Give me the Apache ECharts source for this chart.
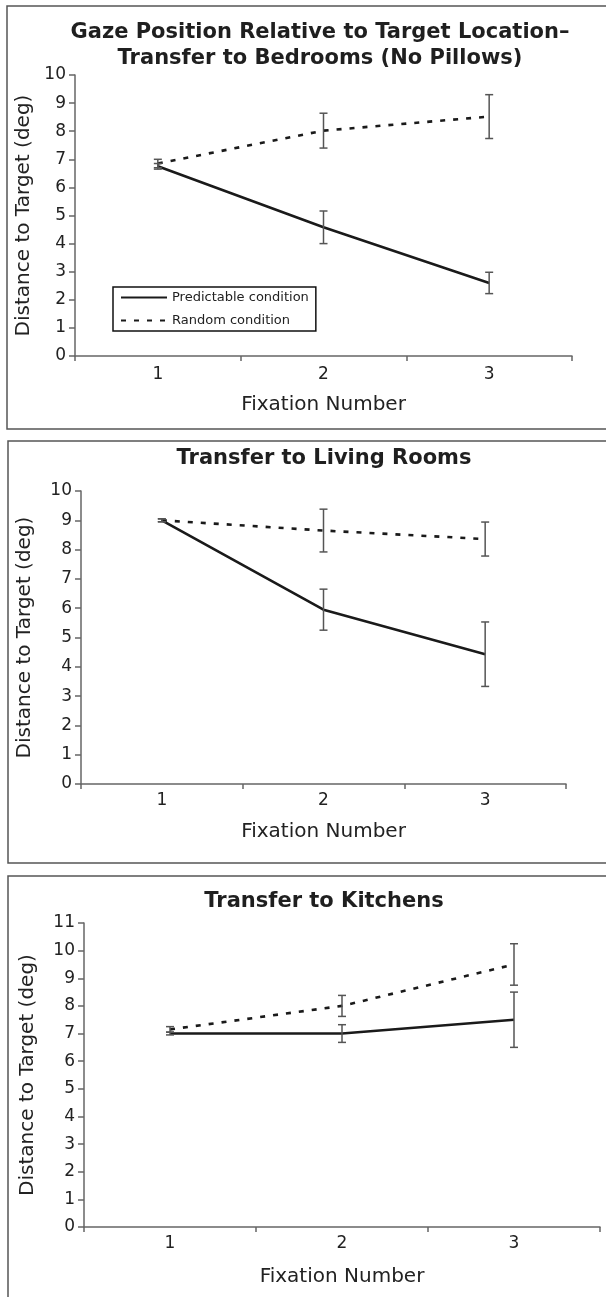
<!DOCTYPE html>
<html>
<head>
<meta charset="utf-8">
<script src="https://cdn.jsdelivr.net/npm/echarts@6/dist/echarts.min.js"></script>
<style>
html,body{margin:0;padding:0;background:#fff;}
#c{width:606px;height:1297px;}
</style>
</head>
<body>
<div id="c"></div>
<script>
const categories = ['1', '2', '3'];
const yTicks1 = 10, yTicks2 = 10, yTicks3 = 11;

const bedPred = [6.75, 4.58, 2.6];
const bedPredErr = [0.1, 0.58, 0.38];
const bedRand = [6.85, 8.02, 8.52];
const bedRandErr = [0.15, 0.62, 0.78];

const livPred = [9.0, 5.95, 4.43];
const livPredErr = [0.05, 0.7, 1.1];
const livRand = [9.0, 8.65, 8.36];
const livRandErr = [0.05, 0.73, 0.58];

const kitPred = [7.0, 7.0, 7.5];
const kitPredErr = [0.05, 0.32, 1.0];
const kitRand = [7.15, 8.0, 9.5];
const kitRandErr = [0.1, 0.38, 0.75];

const titles = ['Gaze Position Relative to Target Location\u2013\nTransfer to Bedrooms (No Pillows)', 'Transfer to Living Rooms', 'Transfer to Kitchens'];
const seriesNames = ['Predictable condition', 'Random condition'];

const FONT = 'DejaVu Sans, Verdana, sans-serif';
const TXT = '#222';
const AX = '#666';

function xAx(i, gap, margin) {
  return {
    type: 'category', gridIndex: i, data: categories, boundaryGap: true,
    axisLine: { lineStyle: { color: AX, width: 1.5 } },
    axisTick: { show: true, length: 5, interval: 0, lineStyle: { color: AX, width: 1.5 } },
    axisLabel: { fontSize: 17, color: TXT, margin: margin, fontFamily: FONT },
    name: 'Fixation Number', nameLocation: 'middle', nameGap: gap,
    nameTextStyle: { fontSize: 20, color: TXT, fontFamily: FONT }
  };
}
function yAx(i, max, gap) {
  return {
    type: 'value', gridIndex: i, min: 0, max: max, interval: 1,
    splitLine: { show: false },
    axisLine: { show: true, lineStyle: { color: AX, width: 1.5 } },
    axisTick: { show: true, length: 6, lineStyle: { color: AX, width: 1.5 } },
    axisLabel: { fontSize: 17, color: TXT, margin: 9, fontFamily: FONT },
    name: 'Distance to Target (deg)', nameLocation: 'middle', nameRotate: 90, nameGap: gap,
    nameTextStyle: { fontSize: 20, color: TXT, fontFamily: FONT }
  };
}
function lineS(i, name, data, dashed) {
  return {
    type: 'line', name: name, xAxisIndex: i, yAxisIndex: i, data: data,
    symbol: 'none', silent: true, z: 2,
    lineStyle: { color: '#1a1a1a', width: 2.6, type: dashed ? [5, 8] : 'solid' },
    itemStyle: { color: '#1a1a1a' }
  };
}
function errS(i, vals, errs) {
  return {
    type: 'custom', xAxisIndex: i, yAxisIndex: i, silent: true, z: 3,
    data: vals.map((v, k) => [k, v - errs[k], v + errs[k]]),
    encode: { x: 0, y: [1, 2] },
    renderItem: function (params, api) {
      const lo = api.coord([api.value(0), api.value(1)]);
      const hi = api.coord([api.value(0), api.value(2)]);
      const w = 4;
      const st = { stroke: '#555', lineWidth: 1.5 };
      return {
        type: 'group', children: [
          { type: 'line', shape: { x1: lo[0], y1: lo[1], x2: hi[0], y2: hi[1] }, style: st },
          { type: 'line', shape: { x1: lo[0] - w, y1: lo[1], x2: lo[0] + w, y2: lo[1] }, style: st },
          { type: 'line', shape: { x1: hi[0] - w, y1: hi[1], x2: hi[0] + w, y2: hi[1] }, style: st }
        ]
      };
    }
  };
}
const titleStyle = { fontSize: 21, fontWeight: 'bold', color: '#1f1f1f', fontFamily: FONT, lineHeight: 26 };

const option = {
  animation: false,
  backgroundColor: '#fff',
  graphic: [
    { type: 'rect', silent: true, shape: { x: 7, y: 6, width: 640, height: 423 }, style: { fill: 'none', stroke: '#555', lineWidth: 1.5 } },
    { type: 'rect', silent: true, shape: { x: 8, y: 441, width: 640, height: 422 }, style: { fill: 'none', stroke: '#555', lineWidth: 1.5 } },
    { type: 'rect', silent: true, shape: { x: 8, y: 876, width: 640, height: 460 }, style: { fill: 'none', stroke: '#555', lineWidth: 1.5 } }
  ],
  title: [
    { text: titles[0], left: 320, top: 20, textAlign: 'center', padding: 0, textStyle: titleStyle },
    { text: titles[1], left: 324, top: 446, textAlign: 'center', padding: 0, textStyle: titleStyle },
    { text: titles[2], left: 324, top: 889, textAlign: 'center', padding: 0, textStyle: titleStyle }
  ],
  legend: {
    data: seriesNames, orient: 'vertical', left: 113, top: 287,
    itemWidth: 46, itemHeight: 14, itemGap: 10, padding: [4, 7, 4, 7],
    borderColor: '#111', borderWidth: 1.5, selectedMode: false,
    itemStyle: { opacity: 0 },
    textStyle: { fontSize: 13, color: TXT, fontFamily: FONT }
  },
  grid: [
    { left: 75, right: 34, top: 75, bottom: 941 },
    { left: 81, right: 40, top: 491, bottom: 513 },
    { left: 84, right: 6, top: 923, bottom: 70 }
  ],
  xAxis: [xAx(0, 39, 10), xAx(1, 38, 8), xAx(2, 40, 8)],
  yAxis: [yAx(0, yTicks1, 35), yAx(1, yTicks2, 46), yAx(2, yTicks3, 46)],
  series: [
    lineS(0, seriesNames[0], bedPred, false),
    lineS(0, seriesNames[1], bedRand, true),
    errS(0, bedPred, bedPredErr),
    errS(0, bedRand, bedRandErr),
    lineS(1, seriesNames[0], livPred, false),
    lineS(1, seriesNames[1], livRand, true),
    errS(1, livPred, livPredErr),
    errS(1, livRand, livRandErr),
    lineS(2, seriesNames[0], kitPred, false),
    lineS(2, seriesNames[1], kitRand, true),
    errS(2, kitPred, kitPredErr),
    errS(2, kitRand, kitRandErr)
  ]
};
const chart = echarts.init(document.getElementById('c'), null, { renderer: 'canvas' });
chart.setOption(option);
</script>
</body>
</html>
